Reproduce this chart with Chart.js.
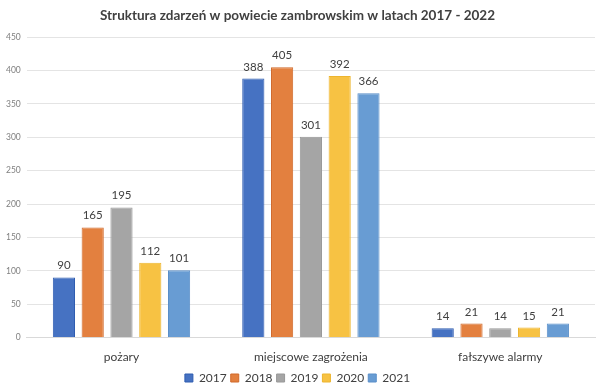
<!DOCTYPE html>
<html>
<head>
<meta charset="utf-8">
<script src="https://cdn.jsdelivr.net/npm/chart.js@4"></script>
<style>
  html, body { margin: 0; padding: 0; background: #fff; }
  #wrap { width: 600px; height: 390px; }
</style>
</head>
<body>
<div id="wrap"><canvas id="grafico"></canvas></div>
<script>
const kategorie = ['pożary', 'miejscowe zagrożenia', 'fałszywe alarmy'];
const lata = ['2017', '2018', '2019', '2020', '2021'];
const dane2017 = [90, 388, 14];
const dane2018 = [165, 405, 21];
const dane2019 = [195, 301, 14];
const dane2020 = [112, 392, 15];
const dane2021 = [101, 366, 21];
const kolory = ['#4672C2', '#E3803F', '#A5A5A5', '#F7C243', '#689CD3'];
const ramki = ['#2F5CB0', '#D0692A', '#989898', '#EDB52E', '#5A8FC9'];

const serie = [dane2017, dane2018, dane2019, dane2020, dane2021];
const czcionka = 'Lato, "Open Sans", sans-serif';

// etykiety wartosci nad slupkami
const etykiety = {
  id: 'etykiety',
  afterDatasetsDraw(chart) {
    const ctx = chart.ctx;
    ctx.save();
    ctx.font = '11.5px ' + czcionka;
    ctx.fillStyle = '#404040';
    ctx.textAlign = 'center';
    ctx.textBaseline = 'bottom';
    chart.data.datasets.forEach((ds, i) => {
      chart.getDatasetMeta(i).data.forEach((bar, j) => {
        ctx.fillText(ds.data[j], bar.x, bar.y - 6);
      });
    });
    ctx.restore();
  }
};

new Chart(document.getElementById('grafico'), {
  type: 'bar',
  data: {
    labels: kategorie,
    datasets: lata.map((rok, i) => ({
      label: rok,
      data: serie[i],
      backgroundColor: kolory[i],
      borderColor: ramki[i],
      borderWidth: 1
    }))
  },
  options: {
    responsive: true,
    maintainAspectRatio: false,
    animation: false,
    layout: { padding: { left: 0, right: 5, top: 4, bottom: -4 } },
    datasets: { bar: { categoryPercentage: 0.76, barPercentage: 0.77 } },
    plugins: {
      title: {
        display: true,
        text: 'Struktura zdarzeń w powiecie zambrowskim w latach 2017 - 2022',
        color: '#404040',
        font: { family: czcionka, size: 13.5, weight: 'bold' },
        padding: { top: 4, bottom: 13 }
      },
      legend: {
        position: 'bottom',
        labels: {
          boxWidth: 8,
          boxHeight: 8,
          padding: 4,
          color: '#404040',
          font: { family: czcionka, size: 12 }
        }
      },
      tooltip: { enabled: false }
    },
    scales: {
      x: {
        grid: { display: false },
        border: { color: '#d9d9d9' },
        ticks: { color: '#404040', font: { family: czcionka, size: 12 }, padding: 4 }
      },
      y: {
        min: 0,
        max: 450,
        ticks: { stepSize: 50, color: '#808080', font: { family: czcionka, size: 8.5 }, padding: 6 },
        grid: { color: '#e4e4e4', drawTicks: false },
        border: { display: false }
      }
    }
  },
  plugins: [etykiety]
});
</script>
</body>
</html>
